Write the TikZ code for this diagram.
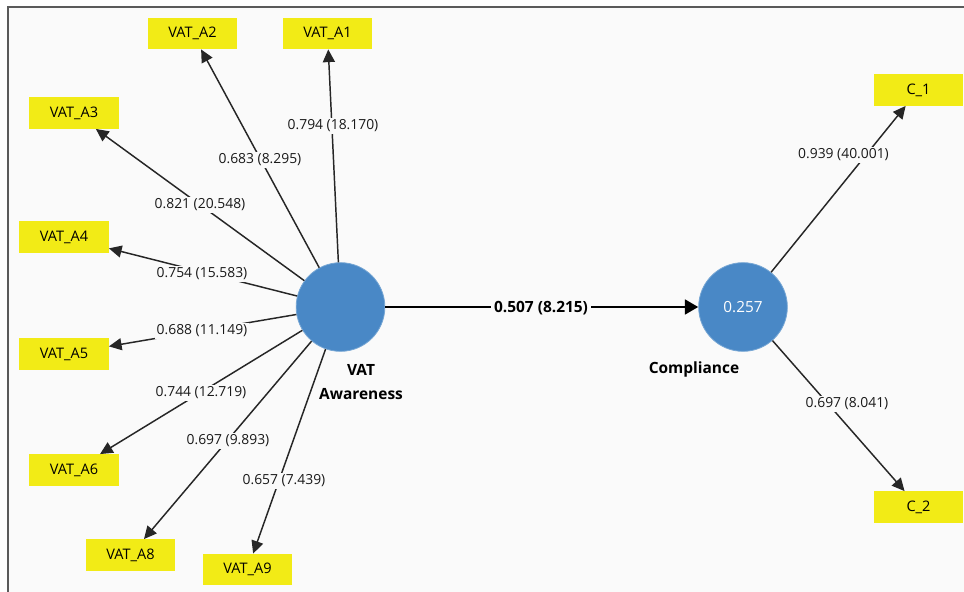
\documentclass[tikz,border=0pt]{standalone}
\usepackage{fontspec}
\setmainfont{Open Sans}
\usetikzlibrary{arrows.meta}
\definecolor{itemyellow}{RGB}{242,235,22}
\definecolor{lvblue}{RGB}{73,136,198}
\definecolor{canvas}{RGB}{250,250,250}
\definecolor{framegray}{RGB}{90,90,90}
\begin{document}
\begin{tikzpicture}[x=0.75pt,y=-0.75pt,
  indicator/.style={fill=itemyellow, minimum width=67pt, minimum height=23.5pt,
    inner sep=0pt, font=\fontsize{10.9}{12}\selectfont},
  latent/.style={circle, fill=lvblue, draw=lvblue!75!white, line width=0.6pt,
    minimum size=66.5pt, inner sep=0pt},
  loading/.style={draw=black!85, line width=1.1pt,
    -{Triangle[length=9.5pt,width=9pt]}},
  pathcoef/.style={draw=black, line width=2pt,
    -{Triangle[length=10pt,width=11pt]}},
  coef/.style={fill=canvas, inner sep=1.2pt, text=black!90,
    font=\fontsize{10.4}{12}\selectfont},
  lvname/.style={font=\bfseries\fontsize{11.6}{18}\selectfont, align=center}]

\useasboundingbox (0,0) rectangle (964,592);
\fill[white] (0,0) rectangle (964,592);
\fill[canvas] (8,7) rectangle (964,592);
\draw[framegray, line width=1.2pt] (8,592) -- (8,7) -- (964,7);

% latent variables
\node[latent] (vat) at (340.5,307) {};
\node[latent, text=white, font=\fontsize{11.5}{13}\selectfont] (comp) at (743,307) {0.257};
\node[lvname] (vatname) at (361,382) {VAT\\Awareness};
\node[lvname] (compname) at (694,369) {Compliance};

% indicators
\node[indicator] (a1) at (327.5,33.5) {VAT\_A1};
\node[indicator] (a2) at (192.5,33.5) {VAT\_A2};
\node[indicator] (a3) at (74,113) {VAT\_A3};
\node[indicator] (a4) at (64,237) {VAT\_A4};
\node[indicator] (a5) at (64,354) {VAT\_A5};
\node[indicator] (a6) at (74,470) {VAT\_A6};
\node[indicator] (a8) at (130.5,555) {VAT\_A8};
\node[indicator] (a9) at (247.5,569.5) {VAT\_A9};
\node[indicator] (c1) at (918.5,90) {C\_1};
\node[indicator] (c2) at (918.5,507) {C\_2};

% outer loadings
\foreach \ind in {a1,a2,a3,a4,a5,a6,a8,a9}
  \draw[loading] (vat) -- (\ind);
\draw[loading] (comp) -- (c1);
\draw[loading] (comp) -- (c2);

% structural path
\draw[pathcoef] (vat) -- (comp);

% coefficients (t values)
\node[coef] (l1) at (333,126) {0.794 (18.170)};
\node[coef] (l2) at (260,160) {0.683 (8.295)};
\node[coef] (l3) at (200,205) {0.821 (20.548)};
\node[coef] (l4) at (202,274) {0.754 (15.583)};
\node[coef] (l5) at (202,331) {0.688 (11.149)};
\node[coef] (l6) at (201,393) {0.744 (12.719)};
\node[coef] (l8) at (228,441) {0.697 (9.893)};
\node[coef] (l9) at (284,481) {0.657 (7.439)};
\node[coef] (lc1) at (843.5,155) {0.939 (40.001)};
\node[coef] (lc2) at (847,404) {0.697 (8.041)};
\node[coef, font=\bfseries\fontsize{11.6}{13}\selectfont, text=black, inner sep=2pt]
  (lp) at (541,308) {0.507 (8.215)};
\end{tikzpicture}
\end{document}
